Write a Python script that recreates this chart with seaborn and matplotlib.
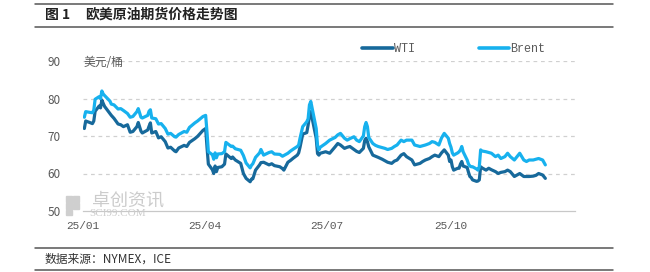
import matplotlib
matplotlib.use("Agg")
import matplotlib.pyplot as plt
import matplotlib.dates as mdates
from matplotlib.lines import Line2D
from matplotlib.patches import Rectangle
import seaborn as sns
import pandas as pd

# ---- data ----
dates = [
    "2025-01-02", "2025-01-03", "2025-01-06", "2025-01-08", "2025-01-09", "2025-01-10",
    "2025-01-13", "2025-01-14", "2025-01-15", "2025-01-16", "2025-01-17", "2025-01-21",
    "2025-01-22", "2025-01-24", "2025-01-27", "2025-01-29", "2025-01-31", "2025-02-03",
    "2025-02-05", "2025-02-07", "2025-02-10", "2025-02-11", "2025-02-13", "2025-02-14",
    "2025-02-18", "2025-02-19", "2025-02-20", "2025-02-21", "2025-02-24", "2025-02-26",
    "2025-02-28", "2025-03-03", "2025-03-05", "2025-03-07", "2025-03-10", "2025-03-11",
    "2025-03-13", "2025-03-17", "2025-03-19", "2025-03-21", "2025-03-25", "2025-03-27",
    "2025-03-31", "2025-04-02", "2025-04-03", "2025-04-04", "2025-04-07", "2025-04-08",
    "2025-04-09", "2025-04-10", "2025-04-11", "2025-04-14", "2025-04-16", "2025-04-17",
    "2025-04-21", "2025-04-22", "2025-04-24", "2025-04-28", "2025-04-30", "2025-05-02",
    "2025-05-05", "2025-05-06", "2025-05-07", "2025-05-09", "2025-05-12", "2025-05-13",
    "2025-05-15", "2025-05-19", "2025-05-21", "2025-05-23", "2025-05-27", "2025-05-29",
    "2025-05-30", "2025-06-02", "2025-06-04", "2025-06-06", "2025-06-09", "2025-06-10",
    "2025-06-11", "2025-06-13", "2025-06-16", "2025-06-17", "2025-06-18", "2025-06-19",
    "2025-06-20", "2025-06-23", "2025-06-24", "2025-06-25", "2025-06-26", "2025-06-30",
    "2025-07-03", "2025-07-07", "2025-07-09", "2025-07-11", "2025-07-14", "2025-07-16",
    "2025-07-18", "2025-07-21", "2025-07-23", "2025-07-25", "2025-07-28", "2025-07-29",
    "2025-07-30", "2025-07-31", "2025-08-01", "2025-08-04", "2025-08-06", "2025-08-08",
    "2025-08-11", "2025-08-13", "2025-08-15", "2025-08-18", "2025-08-20", "2025-08-22",
    "2025-08-25", "2025-08-27", "2025-08-29", "2025-09-02", "2025-09-04", "2025-09-08",
    "2025-09-10", "2025-09-12", "2025-09-15", "2025-09-17", "2025-09-19", "2025-09-22",
    "2025-09-24", "2025-09-26", "2025-09-29", "2025-09-30", "2025-10-01", "2025-10-02",
    "2025-10-03", "2025-10-06", "2025-10-07", "2025-10-08", "2025-10-09", "2025-10-10",
    "2025-10-13", "2025-10-14", "2025-10-15", "2025-10-16", "2025-10-17", "2025-10-20",
    "2025-10-21", "2025-10-22", "2025-10-23", "2025-10-24", "2025-10-27", "2025-10-29",
    "2025-10-31", "2025-11-03", "2025-11-05", "2025-11-07", "2025-11-10", "2025-11-12",
    "2025-11-14", "2025-11-17", "2025-11-19", "2025-11-21", "2025-11-24", "2025-11-26",
    "2025-11-28", "2025-12-01", "2025-12-03", "2025-12-05", "2025-12-08", "2025-12-10",
]

brent = [
    75.0, 76.5, 76.3, 76.2, 76.9, 79.8,
    80.5, 80.0, 82.0, 81.2, 80.8, 79.3,
    78.5, 78.3, 77.2, 77.3, 76.8, 76.0,
    75.0, 75.2, 76.5, 77.3, 75.0, 74.8,
    75.5, 76.6, 77.0, 74.8, 74.6, 73.2,
    73.3, 72.0, 70.5, 70.7, 69.8, 69.7,
    70.4, 71.2, 71.0, 72.3, 73.5, 74.0,
    75.2, 75.5, 71.0, 65.8, 65.0, 63.8,
    65.5, 64.2, 65.2, 65.3, 65.8, 68.3,
    67.2, 67.3, 66.6, 66.2, 64.8, 62.8,
    61.5, 62.2, 62.6, 64.3, 65.5, 66.4,
    64.9, 65.6, 65.8, 65.2, 65.1, 64.6,
    64.8, 65.4, 66.0, 66.5, 67.2, 67.6,
    69.4, 72.5, 73.8, 74.6, 78.3, 79.2,
    77.4, 72.0, 67.5, 66.3, 67.0, 68.0,
    68.9, 69.6, 70.3, 70.7, 69.4, 68.9,
    69.3, 69.8, 68.9, 68.5, 70.0, 72.5,
    73.6, 72.5, 69.6, 68.0, 67.5, 67.2,
    66.9, 66.7, 66.4, 66.7, 67.2, 67.6,
    68.9, 68.5, 68.9, 68.9, 67.6, 67.2,
    67.4, 67.6, 68.0, 68.5, 68.3, 67.6,
    69.5, 70.7, 69.4, 68.0, 67.0, 65.5,
    64.9, 65.5, 65.8, 66.3, 67.2, 65.8,
    63.6, 62.5, 62.0, 61.8, 61.8, 61.2,
    60.9, 61.8, 66.3, 66.0, 65.8, 65.6,
    65.4, 64.5, 64.9, 64.0, 64.5, 65.4,
    64.5, 63.6, 64.5, 65.4, 63.6, 63.2,
    63.6, 63.6, 63.8, 64.0, 63.6, 62.3,
]

wti = [
    72.0, 74.0, 73.6, 73.3, 74.0, 76.6,
    78.0, 77.5, 79.6, 78.7, 77.9, 76.0,
    75.5, 74.7, 73.2, 73.0, 72.5, 73.0,
    71.0, 71.2, 72.5, 73.6, 71.3, 70.8,
    71.6, 72.6, 73.5, 70.8, 71.2, 69.5,
    69.8, 68.5, 66.8, 67.0, 66.0, 65.8,
    66.8, 67.5, 67.2, 68.3, 69.3, 69.9,
    71.5, 72.0, 67.0, 62.5, 61.0, 60.0,
    62.0, 60.5, 61.6, 61.8, 62.5, 65.2,
    64.0, 64.4, 63.6, 62.7, 60.0, 58.7,
    57.8, 58.5, 58.6, 60.9, 62.3, 62.9,
    63.0, 62.3, 62.6, 62.1, 61.8, 61.3,
    60.9, 63.0, 63.5, 64.1, 64.9, 65.5,
    67.0, 70.5, 70.9, 72.9, 75.2, 76.5,
    74.7, 69.4, 65.3, 64.9, 65.4, 65.8,
    65.4, 67.1, 68.0, 67.6, 66.7, 67.0,
    67.2, 66.4, 65.9, 65.6, 66.7, 68.8,
    69.4, 68.5, 67.1, 64.9, 64.6, 64.3,
    63.8, 63.4, 63.0, 62.7, 63.3, 63.6,
    64.9, 65.3, 64.5, 63.6, 62.3, 62.7,
    63.2, 63.6, 64.0, 64.5, 64.9, 64.5,
    65.5, 66.3, 64.9, 63.2, 63.6, 61.8,
    60.9, 61.4, 61.4, 62.5, 63.2, 62.0,
    61.6, 60.3, 59.2, 58.9, 58.3, 57.9,
    58.0, 58.3, 61.8, 61.5, 60.9, 61.4,
    61.0, 60.5, 60.0, 60.3, 60.5, 60.9,
    60.5, 59.2, 59.6, 60.0, 59.2, 59.2,
    59.2, 59.3, 59.5, 60.0, 59.6, 58.7,
]

series_names = ["WTI", "Brent"]
series_colors = ["#17699b", "#17b1ee"]
tick_dates = ["2025-01-01", "2025-04-01", "2025-07-01", "2025-10-01", "2026-01-01"]
tick_labels = ["25/01", "25/04", "25/07", "25/10", ""]
y_ticks = [50, 60, 70, 80, 90]

df = pd.DataFrame({"date": pd.to_datetime(dates), "WTI": wti, "Brent": brent})
long = df.melt(id_vars="date", var_name="series", value_name="price")

# ---- figure ----
sns.set_theme(style="white")
plt.rcParams["font.family"] = ["Noto Sans CJK SC", "DejaVu Sans"]

fig = plt.figure(figsize=(6.5, 2.72), dpi=100)
W, H = 650.0, 272.0
ax = fig.add_axes([83 / W, 1 - 211 / H, (575 - 83) / W, (211 - 61) / H])

sns.lineplot(data=long, x="date", y="price", hue="series",
             hue_order=series_names, palette=series_colors,
             linewidth=2.3, ax=ax, legend=False)

ax.set_ylim(50, 90)
ax.set_xlim(pd.Timestamp("2025-01-01"), pd.Timestamp("2026-01-01"))
ax.set_xlabel("")
ax.set_ylabel("")

# grid
for yv in y_ticks[1:]:
    ax.axhline(yv, color="#d0d0d0", lw=0.9, ls=(0, (3, 3)), zorder=0)

ax.set_yticks(y_ticks)
ax.set_yticklabels([str(v) for v in y_ticks], color="#595959", fontsize=8.5)
ax.tick_params(axis="y", length=0, pad=16)

ax.set_xticks(pd.to_datetime(tick_dates))
ax.set_xticklabels(tick_labels, color="#595959", fontsize=8,
                   family=["Liberation Mono", "DejaVu Sans Mono"])
ax.tick_params(axis="x", length=4, width=0.8, color="#c8c8c8", direction="out", pad=3)

for s in ["left", "right", "top"]:
    ax.spines[s].set_visible(False)
ax.spines["bottom"].set_color("#c8c8c8")
ax.spines["bottom"].set_linewidth(0.9)

# unit label
ax.text(84 / W, 1 - 62 / H, "美元/桶", transform=fig.transFigure,
        fontsize=8.5, color="#595959", ha="left", va="center")

# legend
handles = [Line2D([0], [0], color=c, lw=2.6) for c in series_colors]
fig.legend(handles, series_names, loc="center left",
           bbox_to_anchor=(362 / W, 1 - 49 / H), ncol=2, frameon=False,
           handlelength=2.6, handletextpad=0.1, columnspacing=5.4,
           borderpad=0, borderaxespad=0,
           prop={"family": ["Liberation Mono", "DejaVu Sans Mono"], "size": 8.5},
           labelcolor="#595959")

# watermark
for (x0, y0, w, h) in [(66, 196, 6, 6), (73, 196, 6, 6), (66, 203, 6, 6), (73, 203, 6, 6),
                       (66, 210, 6, 5)]:
    fig.add_artist(Rectangle((x0 / W, 1 - (y0 + h) / H), w / W, h / H,
                             transform=fig.transFigure, color="#cfcfcf", zorder=0))
fig.text(92 / W, 1 - 201 / H, "卓创资讯", fontsize=13, color="#cccccc",
         ha="left", va="center", zorder=0)
fig.text(89 / W, 1 - 214 / H, "SCI99.COM", fontsize=8, color="#cccccc",
         ha="left", va="center", family=["Liberation Serif", "DejaVu Serif"], zorder=0)

# header / footer rules and text
for yy in [3.5, 26.5, 248, 270]:
    fig.add_artist(Line2D([35 / W, 613 / W], [1 - yy / H, 1 - yy / H],
                          transform=fig.transFigure, color="#555555", lw=1.1))
fig.text(45 / W, 1 - 15 / H, "图 1", fontsize=10, fontweight="bold",
         color="#222222", ha="left", va="center")
fig.text(85 / W, 1 - 15 / H, "欧美原油期货价格走势图", fontsize=10, fontweight="bold",
         color="#222222", ha="left", va="center")
fig.text(45 / W, 1 - 259.5 / H, "数据来源：NYMEX，ICE", fontsize=8.5,
         color="#333333", ha="left", va="center")

fig.savefig("out.png", dpi=100)
